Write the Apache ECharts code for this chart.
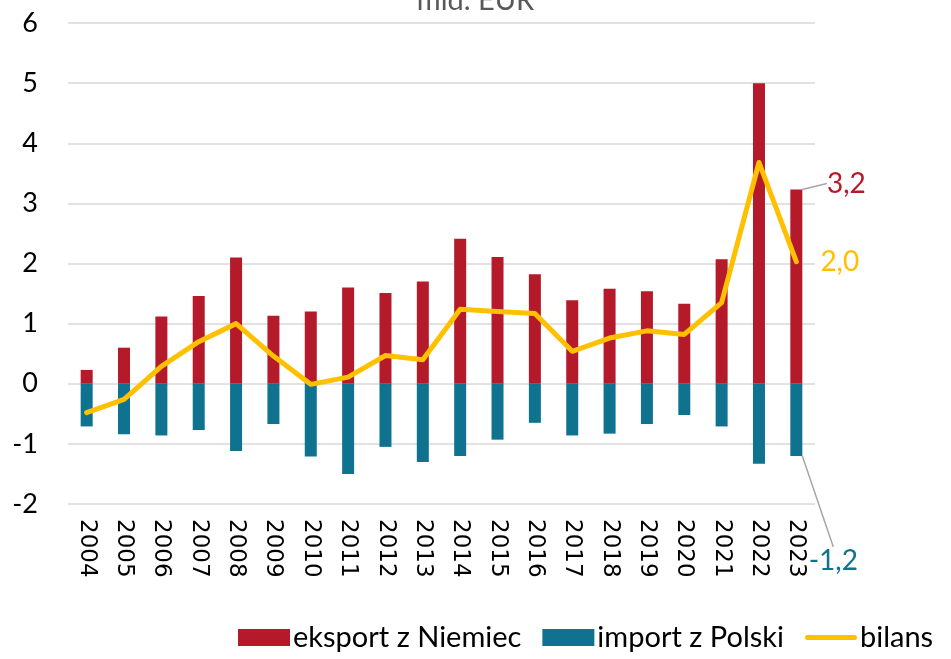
<!DOCTYPE html>
<html>
<head>
<meta charset="utf-8">
<script src="https://cdn.jsdelivr.net/npm/echarts@6/dist/echarts.min.js"></script>
<style>
  html, body { margin: 0; padding: 0; background: #fff; }
  #chart { width: 951px; height: 659px; }
</style>
</head>
<body>
<div id="chart"></div>
<script>
const years = ['2004', '2005', '2006', '2007', '2008', '2009', '2010', '2011', '2012', '2013',
  '2014', '2015', '2016', '2017', '2018', '2019', '2020', '2021', '2022', '2023']
const eksport = [0.23, 0.6, 1.12, 1.46, 2.1, 1.13, 1.2, 1.6, 1.51, 1.7,
  2.41, 2.11, 1.82, 1.39, 1.58, 1.54, 1.33, 2.07, 5.0, 3.23]
const importPl = [-0.71, -0.84, -0.86, -0.77, -1.12, -0.67, -1.21, -1.5, -1.05, -1.3,
  -1.2, -0.93, -0.65, -0.86, -0.83, -0.67, -0.52, -0.71, -1.33, -1.2]
const bilans = [-0.48, -0.26, 0.29, 0.7, 1.0, 0.46, -0.01, 0.11, 0.47, 0.4,
  1.24, 1.2, 1.17, 0.54, 0.76, 0.88, 0.82, 1.35, 3.68, 2.03]
const yTicks = [-2, -1, 0, 1, 2, 3, 4, 5, 6]

const fmt = v => v.toFixed(1).replace('.', ',')
const last = years.length - 1

// only the last year gets a value label
function withLastLabel(arr, label) {
  return arr.map((v, i) => i === last ? { value: v, label: label } : v)
}

const labelFont = { fontFamily: 'Lato', fontSize: 28 }
const lineIcon = 'path://M2.5,0 L49.5,0 A2.5,2.5 0 0 1 49.5,5 L2.5,5 A2.5,2.5 0 0 1 2.5,0 Z'

let myChart = echarts.init(document.getElementById('chart'))
myChart.setOption({
  animation: false,
  title: {
    text: 'mld. EUR',
    left: 'center',
    top: -19,
    textStyle: { color: '#595959', fontFamily: 'Lato', fontSize: 29, fontWeight: 'normal' }
  },
  legend: {
    left: 238,
    bottom: 2,
    padding: [5, 0, 5, 0],
    itemWidth: 52,
    itemHeight: 17,
    itemGap: 21,
    textStyle: { color: '#000', fontFamily: 'Lato', fontSize: 29, padding: [0, 0, 0, -2] },
    data: [
      { name: 'eksport z Niemiec', icon: 'rect' },
      { name: 'import z Polski', icon: 'rect' },
      { name: 'bilans', icon: lineIcon }
    ]
  },
  grid: { left: 68, right: 136, top: 23, bottom: 155 },
  xAxis: {
    type: 'category',
    data: years,
    axisLine: { show: false, onZero: false },
    axisTick: { show: false },
    axisLabel: {
      rotate: -90,
      margin: 15,
      color: '#000',
      fontFamily: 'DejaVu Sans',
      fontSize: 23
    }
  },
  yAxis: {
    type: 'value',
    min: yTicks[0],
    max: yTicks[yTicks.length - 1],
    interval: 1,
    axisLine: { show: false },
    axisTick: { show: false },
    splitLine: { lineStyle: { color: '#d9d9d9', width: 1.5 } },
    axisLabel: {
      margin: 30,
      color: '#000',
      fontFamily: 'Lato',
      fontSize: 27
    }
  },
  series: [
    {
      name: 'eksport z Niemiec',
      type: 'bar',
      stack: 'handel',
      barWidth: 12,
      itemStyle: { color: '#b41a29' },
      labelLine: { show: true, lineStyle: { color: '#a6a6a6', width: 1.5 } },
      labelLayout: { dx: 50, dy: 13 },
      data: withLastLabel(eksport, Object.assign({
        show: true, position: 'top', color: '#b41a29', formatter: p => fmt(p.value)
      }, labelFont))
    },
    {
      name: 'import z Polski',
      type: 'bar',
      stack: 'handel',
      barWidth: 12,
      itemStyle: { color: '#0f7390' },
      labelLine: { show: true, lineStyle: { color: '#a6a6a6', width: 1.5 } },
      labelLayout: { dx: 37, dy: 86 },
      data: withLastLabel(importPl, Object.assign({
        show: true, position: 'bottom', color: '#0f7390', formatter: p => fmt(p.value)
      }, labelFont))
    },
    {
      name: 'bilans',
      type: 'line',
      symbol: 'circle',
      symbolSize: 0.1,
      showSymbol: true,
      lineStyle: { color: '#ffc000', width: 5, cap: 'round', join: 'round' },
      itemStyle: { color: '#ffc000' },
      data: withLastLabel(bilans, Object.assign({
        show: true, position: 'right', distance: 24, color: '#ffc000', formatter: p => fmt(p.value)
      }, labelFont))
    }
  ]
})
</script>
</body>
</html>
